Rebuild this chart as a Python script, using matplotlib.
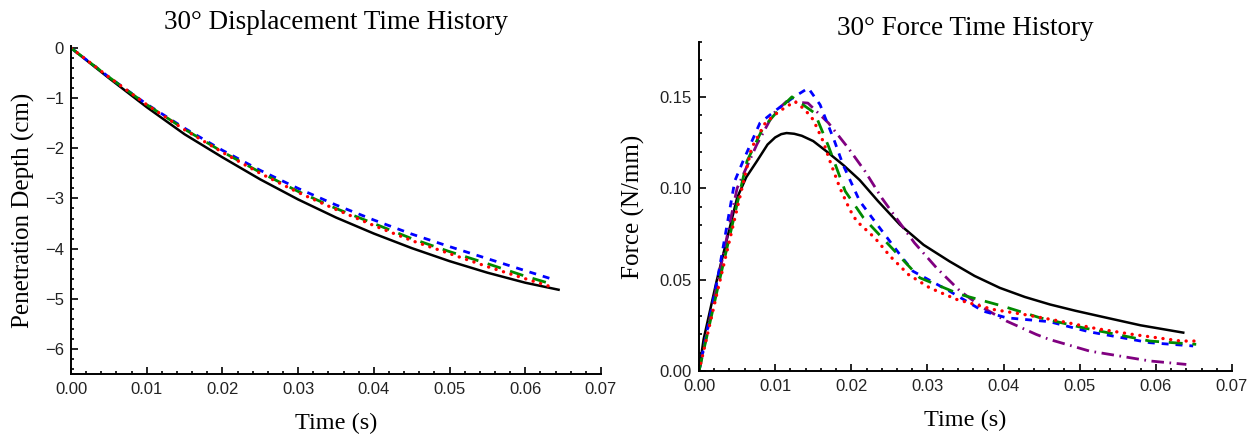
import numpy as np
import matplotlib
matplotlib.use("Agg")
import matplotlib.pyplot as plt
from matplotlib.ticker import MultipleLocator, FuncFormatter

plt.rcParams["lines.scale_dashes"] = False

# Displacement time history (cm)
disp_t_black = [0, 0.005, 0.01, 0.015, 0.02, 0.025, 0.03, 0.035, 0.04, 0.045, 0.05, 0.055, 0.06, 0.0644]
disp_black = [0, -0.6, -1.18, -1.72, -2.18, -2.62, -3.02, -3.38, -3.7, -3.99, -4.25, -4.48, -4.68, -4.82]
disp_t_col = [0, 0.005, 0.01, 0.015, 0.02, 0.025, 0.03, 0.035, 0.04, 0.045, 0.05, 0.055, 0.06, 0.0638]
disp_blue = [0, -0.58, -1.12, -1.6, -2.04, -2.44, -2.8, -3.13, -3.43, -3.71, -3.96, -4.2, -4.44, -4.62]
disp_green = [0, -0.58, -1.13, -1.62, -2.07, -2.48, -2.86, -3.2, -3.5, -3.8, -4.06, -4.3, -4.55, -4.72]
disp_red = [0, -0.58, -1.13, -1.63, -2.08, -2.5, -2.88, -3.22, -3.54, -3.84, -4.1, -4.36, -4.6, -4.78]

# Force time history (N/mm)
f_t_black = [0, 0.0006, 0.0023, 0.005, 0.0062, 0.0076, 0.009, 0.010, 0.0108, 0.0115, 0.0125,
             0.0135, 0.015, 0.0168, 0.019, 0.0211, 0.0235, 0.0264, 0.0295, 0.0329, 0.0362,
             0.0395, 0.0428, 0.0461, 0.0494, 0.0526, 0.058, 0.0636]
f_black = [0, 0.0173, 0.049, 0.0947, 0.106, 0.1148, 0.1239, 0.1278, 0.1296, 0.1302, 0.1298,
           0.1287, 0.1258, 0.120, 0.1125, 0.1045, 0.093, 0.080, 0.069, 0.060, 0.052,
           0.0455, 0.0405, 0.0364, 0.033, 0.030, 0.025, 0.021]

f_t_blue = [0, 0.0025, 0.0047, 0.0058, 0.008, 0.0102, 0.0125, 0.01435, 0.0159, 0.0178, 0.0189,
            0.0211, 0.0229, 0.0262, 0.0281, 0.0329, 0.0373, 0.0404, 0.046, 0.0513, 0.0592, 0.0649]
f_blue = [0, 0.052, 0.104, 0.115, 0.1357, 0.143, 0.150, 0.1548, 0.1457, 0.1257, 0.113,
          0.093, 0.0829, 0.0647, 0.0546, 0.0437, 0.0328, 0.0291, 0.027, 0.0214, 0.0155, 0.0137]

f_t_green = [0, 0.0026, 0.0063, 0.0084, 0.0105, 0.0122, 0.0152, 0.017, 0.0192, 0.0216, 0.0253,
             0.029, 0.0343, 0.0399, 0.0448, 0.0504, 0.0592, 0.0653]
f_green = [0, 0.048, 0.1148, 0.133, 0.143, 0.150, 0.1411, 0.123, 0.0984, 0.0838, 0.0674,
           0.051, 0.0419, 0.0355, 0.0291, 0.0237, 0.0164, 0.0146]

f_t_red = [0, 0.0025, 0.0069, 0.0087, 0.0105, 0.0126, 0.0139, 0.015, 0.0163, 0.0172, 0.0185,
           0.0198, 0.0207, 0.0231, 0.0251, 0.0275, 0.0303, 0.0338, 0.0386, 0.0426, 0.0474,
           0.0522, 0.057, 0.0633, 0.0651]
f_red = [0, 0.045, 0.122, 0.1357, 0.142, 0.1475, 0.143, 0.1375, 0.1257, 0.1148, 0.1002,
         0.0883, 0.082, 0.0728, 0.0628, 0.0528, 0.0455, 0.0392, 0.0337, 0.031, 0.0273,
         0.0232, 0.020, 0.0164, 0.0164]

f_t_purple = [0, 0.0025, 0.005, 0.0076, 0.0098, 0.0115, 0.0143, 0.017, 0.0196, 0.0218, 0.024,
              0.0262, 0.0283, 0.0312, 0.0343, 0.0373, 0.0404, 0.0443, 0.046, 0.0513, 0.0592, 0.064]
f_purple = [0, 0.05, 0.1, 0.124, 0.141, 0.1475, 0.1466, 0.1357, 0.122, 0.1093, 0.0947,
            0.082, 0.0701, 0.0564, 0.0437, 0.0346, 0.0273, 0.020, 0.0173, 0.0109, 0.0055, 0.0036]

serif = "Liberation Serif"
tick_font = "Liberation Sans"

styles = {
    "black": dict(color="black", lw=1.8, ls="-"),
    "blue": dict(color="#0000ff", lw=2.0, dashes=(5, 5)),
    "green": dict(color="#008a00", lw=2.0, dashes=(10, 7)),
    "red": dict(color="#ff0000", lw=2.4, dashes=(0.1, 5.5), dash_capstyle="round"),
    "purple": dict(color="#800080", lw=2.0, dashes=(9, 4, 1.2, 4)),
}


def style_axes(ax, title, ylabel, title_pad, ylabel_pad):
    for side in ["top", "right"]:
        ax.spines[side].set_visible(False)
    for side in ["left", "bottom"]:
        ax.spines[side].set_linewidth(1.4)
    ax.tick_params(which="both", direction="in", width=1.2, top=False, right=False)
    ax.tick_params(which="major", length=5)
    ax.tick_params(which="minor", length=2.5)
    ax.tick_params(axis="x", pad=6)
    ax.tick_params(axis="y", pad=5)
    for lab in ax.get_xticklabels() + ax.get_yticklabels():
        lab.set_fontfamily(tick_font)
        lab.set_fontsize(12)
        lab.set_color("#222222")
    ax.set_xlim(0, 0.07)
    ax.xaxis.set_major_locator(MultipleLocator(0.01))
    ax.xaxis.set_minor_locator(MultipleLocator(0.002))
    ax.xaxis.set_major_formatter(FuncFormatter(lambda v, _: f"{v:.2f}"))
    ax.set_title(title, fontfamily=serif, fontsize=19.5, pad=title_pad)
    ax.set_xlabel("Time (s)", fontfamily=serif, fontsize=17.5, labelpad=11)
    ax.set_ylabel(ylabel, fontfamily=serif, fontsize=18, labelpad=ylabel_pad)


fig = plt.figure(figsize=(12.57, 4.40), dpi=100)

# Left: displacement
ax1 = fig.add_axes([0.0565, 0.15, 0.4216, 0.7455])
ax1.plot(disp_t_black, disp_black, **styles["black"])
ax1.plot(disp_t_col, disp_blue, **styles["blue"])
ax1.plot(disp_t_col, disp_green, **styles["green"])
ax1.plot(disp_t_col, disp_red, **styles["red"])
ax1.set_ylim(-6.5, 0.04)
ax1.yaxis.set_major_locator(MultipleLocator(1))
ax1.yaxis.set_minor_locator(MultipleLocator(0.2))
ax1.yaxis.set_major_formatter(FuncFormatter(lambda v, _: f"{v:.0f}".replace("-", "\u2212")))
style_axes(ax1, "30° Displacement Time History", "Penetration Depth (cm)", 12, 7)

# Right: force
ax2 = fig.add_axes([0.5561, 0.1568, 0.424, 0.7477])
ax2.plot(f_t_black, f_black, **styles["black"])
ax2.plot(f_t_purple, f_purple, **styles["purple"])
ax2.plot(f_t_blue, f_blue, **styles["blue"])
ax2.plot(f_t_green, f_green, **styles["green"])
ax2.plot(f_t_red, f_red, **styles["red"])
ax2.set_ylim(0, 0.18)
ax2.yaxis.set_major_locator(MultipleLocator(0.05))
ax2.yaxis.set_minor_locator(MultipleLocator(0.01))
ax2.yaxis.set_major_formatter(FuncFormatter(lambda v, _: f"{v:.2f}"))
style_axes(ax2, "30° Force Time History", "Force (N/mm)", 5, 10.5)

fig.savefig("out.png", dpi=100)
